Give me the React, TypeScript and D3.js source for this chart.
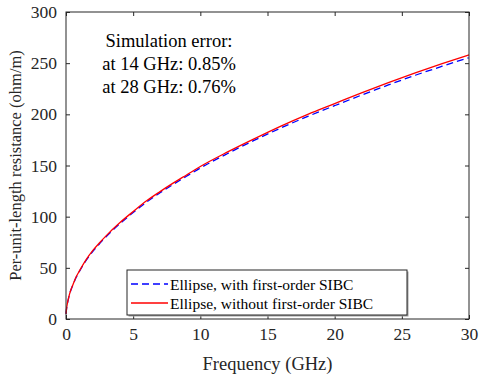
import React, { useEffect, useRef } from "react";
import * as d3 from "d3";

// frequency samples (GHz)
const freq = [0, 0.05, 0.1, 0.2, 0.3, 0.5, 0.75, 1, 1.5, 2, 2.5, 3, 4, 5, 6, 7, 8, 9, 10, 12, 14, 16, 18, 20, 22, 24, 26, 28, 30];
// without first-order SIBC (red)
const redVals = [5, 11, 15, 21, 26, 33, 41, 47, 58, 67, 74.5, 81.5, 94, 105, 115.5, 124.5, 133, 141, 149, 163, 176, 188.5, 200, 210.5, 221, 231, 240.5, 249.5, 258];
// with first-order SIBC (blue)
const blueVals = [5, 10.8, 14.8, 20.8, 25.6, 32.7, 40.5, 46.5, 57.2, 66, 73.6, 80.6, 93, 104, 114.3, 123.3, 131.7, 139.7, 147.5, 161.5, 174.5, 186.7, 198, 208.5, 218.8, 228.7, 238.2, 247, 255.5];

const xTicks = [0, 5, 10, 15, 20, 25, 30];
const yTicks = [0, 50, 100, 150, 200, 250, 300];

const notes = ["Simulation error:", "at 14 GHz: 0.85%", "at 28 GHz: 0.76%"];
const legendItems = [
  { label: "Ellipse, with first-order SIBC", color: "#0000ff", dash: "7,4" },
  { label: "Ellipse, without first-order SIBC", color: "#ff0000", dash: null },
];

const font = '"Liberation Serif", "Times New Roman", Times, "DejaVu Serif", serif';

const App = () => {
  const ref = useRef<SVGSVGElement>(null);

  useEffect(() => {
    const width = 480;
    const height = 378;
    const margin = { top: 12, right: 11, bottom: 59, left: 66 };
    const innerW = width - margin.left - margin.right;
    const innerH = height - margin.top - margin.bottom;

    const svg = d3.select(ref.current);
    svg.selectAll("*").remove();

    const g = svg.append("g").attr("transform", `translate(${margin.left},${margin.top})`);

    const x = d3.scaleLinear().domain([0, 30]).range([0, innerW]);
    const y = d3.scaleLinear().domain([0, 300]).range([innerH, 0]);

    g.append("rect").attr("width", innerW).attr("height", innerH).attr("fill", "#fff");

    const axisStyle = (sel: any) => {
      sel.attr("font-family", null).attr("font-size", null);
      sel.select(".domain").remove();
      sel.selectAll("line").attr("stroke", "#262626");
      sel.selectAll("text").style("font-size", "17.5px").attr("fill", "#262626");
    };

    g.append("g").attr("transform", `translate(0,${innerH})`)
      .call(d3.axisBottom(x).tickValues(xTicks).tickSizeInner(-4).tickSizeOuter(0).tickPadding(9))
      .call(axisStyle);
    g.append("g")
      .call(d3.axisTop(x).tickValues(xTicks).tickSizeInner(-4).tickSizeOuter(0).tickFormat(() => ""))
      .call(axisStyle);
    g.append("g")
      .call(d3.axisLeft(y).tickValues(yTicks).tickSizeInner(-4).tickSizeOuter(0).tickPadding(9))
      .call(axisStyle);
    g.append("g").attr("transform", `translate(${innerW},0)`)
      .call(d3.axisRight(y).tickValues(yTicks).tickSizeInner(-4).tickSizeOuter(0).tickFormat(() => ""))
      .call(axisStyle);

    const line = d3.line<number>().x((d, i) => x(freq[i])).y(d => y(d)).curve(d3.curveMonotoneX);

    g.append("path").datum(blueVals).attr("d", line).attr("fill", "none")
      .attr("stroke", "#0000ff").attr("stroke-width", 1.3).attr("stroke-dasharray", "7,4");
    g.append("path").datum(redVals).attr("d", line).attr("fill", "none")
      .attr("stroke", "#ff0000").attr("stroke-width", 1.3);

    g.append("rect").attr("width", innerW).attr("height", innerH)
      .attr("fill", "none").attr("stroke", "#262626").attr("stroke-width", 1);

    // annotation
    svg.append("g").selectAll("text").data(notes).join("text")
      .attr("x", 169).attr("y", (d, i) => 47 + i * 23)
      .attr("text-anchor", "middle").style("font-size", "18.5px")
      .attr("fill", "#000").text(d => d);

    // legend
    const lg = svg.append("g").attr("transform", "translate(127,270)");
    lg.append("rect").attr("x", 1.5).attr("y", 1.5).attr("width", 280).attr("height", 45)
      .attr("fill", "#a0a0a0");
    lg.append("rect").attr("width", 280).attr("height", 45)
      .attr("fill", "#fff").attr("stroke", "#262626").attr("stroke-width", 1);
    const rows = lg.selectAll("g.item").data(legendItems).join("g")
      .attr("transform", (d, i) => `translate(0,${14 + i * 19})`);
    rows.append("line").attr("x1", 4).attr("x2", 41).attr("y1", 0).attr("y2", 0)
      .attr("stroke", d => d.color).attr("stroke-width", 1.3)
      .attr("stroke-dasharray", d => d.dash);
    rows.append("text").attr("x", 43).attr("y", 5.5)
      .style("font-size", "15.5px").attr("fill", "#000").text(d => d.label);

    // axis labels
    svg.append("text").attr("x", margin.left + innerW / 2).attr("y", 370)
      .attr("text-anchor", "middle").style("font-size", "18.5px")
      .attr("fill", "#262626").text("Frequency (GHz)");
    svg.append("text").attr("transform", `translate(21,${margin.top + innerH / 2}) rotate(-90)`)
      .attr("text-anchor", "middle").style("font-size", "16.5px")
      .attr("fill", "#262626").text("Per-unit-length resistance (ohm/m)");
  }, []);

  return <svg ref={ref} width={480} height={378}
    style={{ position: "absolute", left: 0, top: 0, background: "#fff", fontFamily: font }} />;
};

export default App;
